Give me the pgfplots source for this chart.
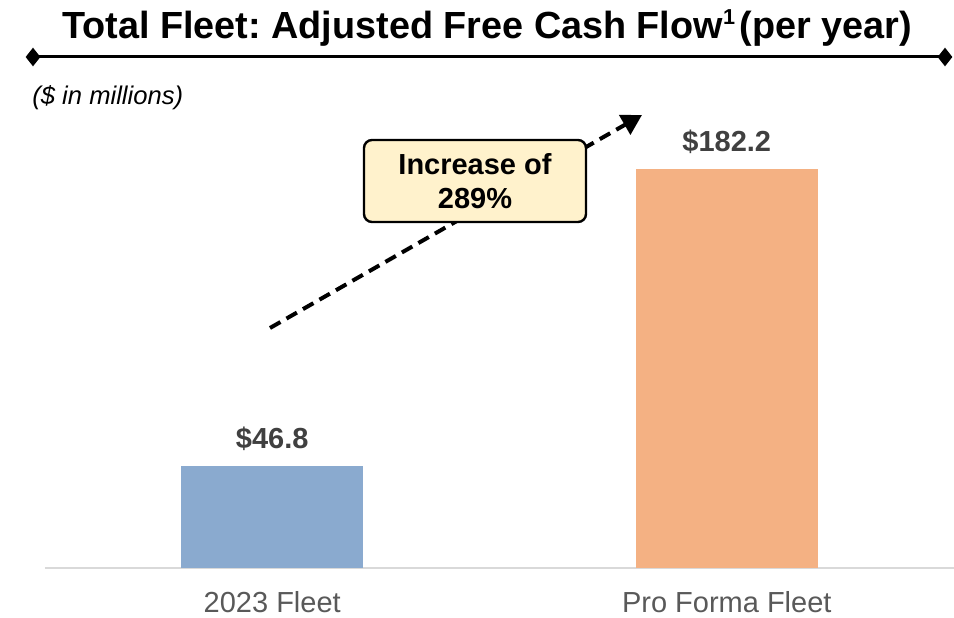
\documentclass[border=0pt]{standalone}
\usepackage{fontspec}
\setmainfont{Liberation Sans}
\usepackage{pgfplots}
\pgfplotsset{compat=1.18}
\usetikzlibrary{shapes.geometric,arrows.meta}
\definecolor{barblue}{HTML}{8AAACF}
\definecolor{barorange}{HTML}{F4B183}
\definecolor{axisgray}{HTML}{D9D9D9}
\definecolor{labelgray}{HTML}{404040}
\definecolor{tickgray}{HTML}{595959}
\definecolor{boxfill}{HTML}{FFF2CC}
\frenchspacing

\begin{document}
\begin{tikzpicture}
\begin{axis}[
  at={(0,0)}, anchor=south west,
  scale only axis, width=454.5pt, height=219pt,
  ybar, bar width=0.4, bar shift=0pt,
  xmin=-0.5, xmax=1.5, ymin=0, ymax=200,
  axis x line=bottom, axis y line=none,
  x axis line style={draw=axisgray, line width=1pt, -},
  xtick={0,1}, xticklabels={2023 Fleet, Pro Forma Fleet},
  ytick=\empty,
  major tick length=0pt,
  xticklabel style={font=\fontsize{14.5}{17}\selectfont, text=tickgray, yshift=-8pt},
  point meta=explicit symbolic,
  nodes near coords,
  every node near coord/.append style={font=\fontsize{14.5}{17}\selectfont\bfseries, text=labelgray, yshift=4pt},
  clip=false,
]
\addplot[fill=barblue, draw=none] coordinates {(0,46.8) [\$46.8]};
\addplot[fill=barorange, draw=none] coordinates {(1,182.2) [\$182.2]};
\end{axis}

% title and rule
\node[font=\fontsize{18.9}{22}\selectfont\bfseries] at (221pt,270pt)
  {Total Fleet: Adjusted Free Cash Flow{\fontsize{10.8}{12}\selectfont\raisebox{0.62em}{1}}\hspace{0.12em}(per year)};
\draw[line width=1.5pt] (-6pt,255.5pt) -- (450pt,255.5pt);
\node[diamond, fill=black, inner sep=0pt, minimum width=7.5pt, minimum height=9.5pt] at (-6pt,255.5pt) {};
\node[diamond, fill=black, inner sep=0pt, minimum width=7.5pt, minimum height=9.5pt] at (450pt,255.5pt) {};
\node[anchor=west, inner sep=0pt, font=\fontsize{12.8}{15}\selectfont\itshape] at (-6.5pt,235pt) {(\$ in millions)};

% growth arrow and callout
\draw[line width=2pt, dash pattern=on 6pt off 3.5pt, -{Triangle[length=10pt,width=11pt]}]
  (112.5pt,120pt) -- (298.5pt,226.5pt);
\node[draw=black, line width=1.2pt, fill=boxfill, rounded corners=4pt,
  minimum width=111pt, minimum height=41pt, align=center,
  font=\fontsize{14.5}{17}\selectfont\bfseries] at (215pt,193.5pt) {Increase of\\289\%};

\pgfresetboundingbox
\useasboundingbox (-22.5pt,-24.5pt) rectangle (454.5pt,284pt);
\end{tikzpicture}
\end{document}
